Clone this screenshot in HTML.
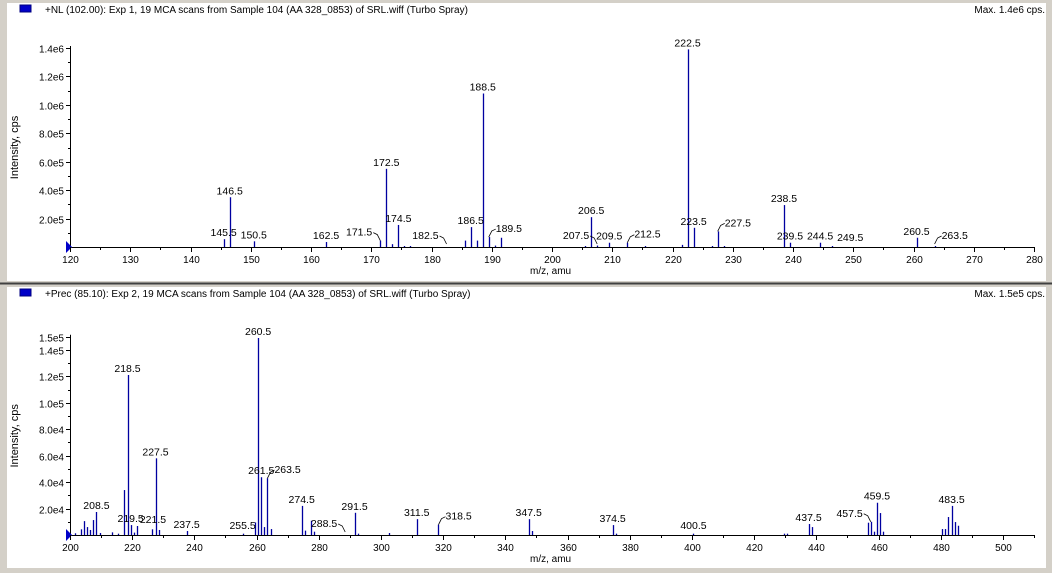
<!DOCTYPE html>
<html><head><meta charset="utf-8"><style>
html,body{margin:0;padding:0;background:#d4d0c8;}
svg{display:block;font-family:"Liberation Sans",Arial,sans-serif;}
</style></head><body>
<svg id="chart" width="1052" height="573" xmlns="http://www.w3.org/2000/svg">
<rect x="0" y="0" width="1052" height="573" fill="#d4d0c8"/>
<line x1="0" y1="283.5" x2="1052" y2="283.5" stroke="#404040" stroke-width="2"/>
</svg>
<script>
// ---- Top panel data (NL 102.00) ----
const topMz = [145.5,146.5,150.5,162.5,171.5,172.5,173.5,174.5,175.5,176.5,185.5,186.5,187.5,188.5,189.5,190.5,191.5,205.5,206.5,207.5,209.5,212.5,215.5,221.5,222.5,223.5,226.5,227.5,228.5,238.5,239.5,244.5,246.5,260.5,263.5];
const topInt = [55000,350000,40000,35000,45000,550000,20000,155000,5000,5000,45000,140000,45000,1080000,70000,10000,65000,5000,210000,10000,30000,30000,5000,15000,1390000,135000,5000,110000,5000,295000,30000,30000,5000,65000,5000];
const topLabels = ["145.5","146.5","150.5","162.5","171.5","172.5","174.5","182.5","186.5","188.5","189.5","206.5","207.5","209.5","212.5","222.5","223.5","227.5","238.5","239.5","244.5","249.5","260.5","263.5"];
const topLabelSide = ["c","c","c","c","l","c","c","l","c","c","r","c","l","c","r","c","c","r","c","c","c","c","c","r"];
const topYTicks = ["2.0e5","4.0e5","6.0e5","8.0e5","1.0e6","1.2e6","1.4e6"];
const topYTickVals = [200000,400000,600000,800000,1000000,1200000,1400000];
const topXTicks = [120,130,140,150,160,170,180,190,200,210,220,230,240,250,260,270,280];

// ---- Bottom panel data (Prec 85.10) ----
const botMz = [201.5,203.5,204.5,205.5,206.5,207.5,208.5,209.5,213.5,215.5,217.5,218.5,219.5,220.5,221.5,226.5,227.5,228.5,237.5,255.5,259.5,260.5,261.5,262.5,263.5,264.5,274.5,275.5,277.5,278.5,291.5,292.5,302.5,311.5,318.5,347.5,348.5,374.5,375.5,400.5,429.5,430.5,437.5,438.5,456.5,457.5,458.5,459.5,460.5,461.5,480.5,481.5,482.5,483.5,484.5,485.5];
const botInt = [1300,4300,10500,6000,3800,11300,17400,1500,2000,1000,34000,121000,7500,1800,6800,4300,58000,3800,3000,1000,9500,149000,43700,6000,43000,4500,22000,3300,10800,2500,16800,1000,1500,12000,7800,12000,3000,7500,1000,1000,1000,1000,8300,6000,9300,10000,2500,24400,16600,2500,4500,4500,13600,22000,9800,7000];
const botLabels = ["208.5","218.5","219.5","221.5","227.5","237.5","255.5","260.5","261.5","263.5","274.5","288.5","291.5","311.5","318.5","347.5","374.5","400.5","437.5","457.5","459.5","483.5"];
const botLabelSide = ["c","c","c","R","c","c","c","c","c","r","c","l","c","c","r","c","c","c","c","l","c","c"];
const botYTicks = ["2.0e4","4.0e4","6.0e4","8.0e4","1.0e5","1.2e5","1.4e5","1.5e5"];
const botYTickVals = [20000,40000,60000,80000,100000,120000,140000,150000];
const botXTicks = [200,220,240,260,280,300,320,340,360,380,400,420,440,460,480,500];

const NS = "http://www.w3.org/2000/svg";
const svg = document.getElementById("chart");
function mk(tag, attrs, parent){const e=document.createElementNS(NS,tag);for(const k in attrs)e.setAttribute(k,attrs[k]);(parent||svg).appendChild(e);return e;}

function panel(cfg){
  const g = mk("g",{});
  
  
  const bg = mk("rect",{x:7,y:cfg.top,width:1039,height:cfg.h,fill:"#fff"},g);
  
  
  const x0=70,x1=1034,base=cfg.base,ytop=cfg.ytop;
  const xs = m => x0 + (m-cfg.xmin)/(cfg.xmax-cfg.xmin)*(x1-x0);
  const ys = v => base - v/cfg.ymax*(base-ytop);
  const sq = mk("rect",{x:20,y:cfg.top+2,width:11,height:7,fill:"#0000c8",stroke:"#000080","stroke-width":1},g);
  
  
  const ht = mk("text",{x:45,y:cfg.top+10,"font-size":"10px",fill:"#000"},g);
  ht.textContent = cfg.title;
  
  
  const mx = mk("text",{x:1045,y:cfg.top+10,"font-size":"10px","text-anchor":"end",fill:"#000"},g);
  mx.textContent = cfg.maxText;
  
  
  const ya = mk("line",{x1:x0+0.5,y1:ytop-2,x2:x0+0.5,y2:base,stroke:"#000"},g);
  
  
  const xa = mk("line",{x1:x0,y1:base+0.5,x2:x1,y2:base+0.5,stroke:"#000"},g);
  
  
  const tri = mk("polygon",{points:`${x0-4},${base-6} ${x0+2},${base} ${x0-4},${base+6}`,fill:"#0000c8"},g);
  
  
  for(let v=cfg.yminor; v<=cfg.ymax+1; v+=cfg.yminor){
    const t=mk("line",{x1:x0-2,y1:Math.round(ys(v))+0.5,x2:x0,y2:Math.round(ys(v))+0.5,stroke:"#000"},g);
    
    
  }
  cfg.yTickVals.forEach((v,i)=>{
    const y=Math.round(ys(v))+0.5;
    const t=mk("line",{x1:x0-4,y1:y,x2:x0,y2:y,stroke:"#000"},g);
    
    
    const l=mk("text",{x:x0-6,y:y+4,"font-size":"10px","text-anchor":"end"},g);
    l.textContent=cfg.yTicks[i];
    
    
  });
  for(let m=cfg.xmin; m<=cfg.xmax; m+=cfg.xminor){
    const x=Math.round(xs(m))+0.5;
    const t=mk("line",{x1:x,y1:base,x2:x,y2:base+3,stroke:"#000"},g);
    
    
  }
  cfg.xTicks.forEach(m=>{
    const x=Math.round(xs(m))+0.5;
    const t=mk("line",{x1:x,y1:base,x2:x,y2:base+5,stroke:"#000"},g);
    
    
    const l=mk("text",{x:x,y:base+16,"font-size":"10px","text-anchor":"middle"},g);
    l.textContent=m;
    
    
  });
  const yt=mk("text",{x:0,y:0,"font-size":"11px","text-anchor":"middle",transform:`translate(18,${(ytop+base)/2}) rotate(-90)`},g);
  yt.textContent="Intensity, cps";
  
  
  const xt=mk("text",{x:530,y:base+27,"font-size":"10px","text-anchor":"start"},g);
  xt.textContent="m/z, amu";
  
  
  cfg.mz.forEach((m,i)=>{
    const x=Math.round(xs(m))+0.5;
    const p=mk("line",{x1:x,y1:base,x2:x,y2:Math.min(base-1,ys(cfg.val[i])),stroke:"#0000a0","stroke-width":1.3},g);
    
    
  });
  cfg.labels.forEach((s,i)=>{
    const m=parseFloat(s);
    const idx=cfg.mz.indexOf(m);
    const v=idx>=0?cfg.val[idx]:0;
    const x=xs(m), yTop=Math.min(base-3,ys(v));
    const side=cfg.side[i];
    let tx=x, ty=yTop-3, anchor="middle";
    if(side==="R"){tx=x+3; anchor="start";}
    if(side==="l"){tx=x-8; ty=yTop-5; anchor="end";
      const ld=mk("path",{d:`M${x-7},${ty-3} L${x-3},${ty-1} L${x},${yTop}`,stroke:"#000",fill:"none","stroke-width":0.8},g);
      
      }
    if(side==="r"){tx=x+7; ty=yTop-5; anchor="start";
      const ld=mk("path",{d:`M${x},${yTop} L${x+3},${ty-1} L${x+7},${ty-3}`,stroke:"#000",fill:"none","stroke-width":0.8},g);
      
      }
    const l=mk("text",{x:tx,y:ty,"font-size":"10.5px","text-anchor":anchor},g);
    l.textContent=s;
    
    
  });
}

panel({name:"nl-panel",top:3,h:278,base:247,ytop:48,xmin:120,xmax:280,xminor:5,ymax:1400000,yminor:100000,
  title:"+NL (102.00): Exp 1, 19 MCA scans from Sample 104 (AA 328_0853) of SRL.wiff (Turbo Spray)",maxText:"Max. 1.4e6 cps.",
  mz:topMz,val:topInt,labels:topLabels,side:topLabelSide,yTicks:topYTicks,yTickVals:topYTickVals,xTicks:topXTicks});
panel({name:"prec-panel",top:287,h:281,base:535,ytop:336.7,xmin:200,xmax:510,xminor:10,ymax:150000,yminor:10000,
  title:"+Prec (85.10): Exp 2, 19 MCA scans from Sample 104 (AA 328_0853) of SRL.wiff (Turbo Spray)",maxText:"Max. 1.5e5 cps.",
  mz:botMz,val:botInt,labels:botLabels,side:botLabelSide,yTicks:botYTicks,yTickVals:botYTickVals,xTicks:botXTicks});
</script>
</body></html>
